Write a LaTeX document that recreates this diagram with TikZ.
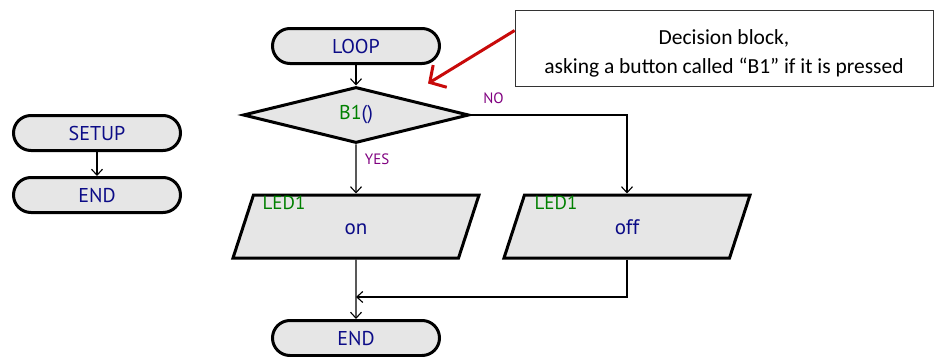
\documentclass[tikz,border=0pt]{standalone}
\usepackage{fontspec}
\setmainfont{PT Sans}
\newfontfamily\notefont{Carlito}
\usetikzlibrary{arrows.meta,positioning,calc,shapes.geometric}
\definecolor{boxfill}{RGB}{230,230,230}
\definecolor{keyword}{RGB}{12,12,135}
\definecolor{varname}{RGB}{0,128,0}
\definecolor{answer}{RGB}{128,0,128}
\definecolor{pointer}{RGB}{200,10,10}

\begin{document}
\begin{tikzpicture}[x=1pt, y=-1pt, node distance=22pt, >={Straight Barb[length=6pt,width=11pt]},
  term/.style={draw, line width=3pt, fill=boxfill, rounded corners=17.5pt, minimum width=167pt, minimum height=35pt, text=keyword, font=\fontsize{20}{24}\selectfont},
  decision/.style={draw, diamond, aspect=3.5, inner sep=0pt, line width=3pt, fill=boxfill, minimum width=226pt, minimum height=56pt, text=keyword, font=\fontsize{20}{24}\selectfont},
  io/.style={draw, trapezium, trapezium left angle=72, trapezium right angle=108, trapezium stretches body, line width=3pt, fill=boxfill, text height=15pt, text depth=0pt, inner ysep=24pt, minimum width=246pt, text=keyword, font=\fontsize{21}{24}\selectfont},
  tag/.style={text=varname, font=\fontsize{19}{22}\selectfont},
  answer/.style={text=answer, font=\fontsize{15}{18}\selectfont},
  flow/.style={->, line width=1.1pt}]
\useasboundingbox (0,0) rectangle (934,356);
% SETUP part
\node[term] (setup) at (97,133) {SETUP};
\node[term, below=24pt of setup] (stop) {END};
\draw[flow] (setup) -- (stop);
% LOOP part
\node[term] (loop) at (356,46) {LOOP};
\node[decision] (dec) at (356,115) {{\color{varname}B1}()};
\node[io] (on) at (356,226.5) {on};
\node[io] (off) at (627,226.5) {off};
\node[tag] at ([xshift=-72pt, yshift=-9pt]on.north) {LED1};
\node[tag] at ([xshift=-71pt, yshift=-9pt]off.north) {LED1};
\node[term] (done) at (356,338) {END};
\coordinate (join) at ($(on.south)!0.63!(done.north)$);
\draw[flow] (loop) -- (dec);
\draw[flow] (dec) -- node[answer, right=5pt, pos=0.3] {YES} (on);
\draw[flow] (dec.east) -| node[answer, at start, anchor=base west, xshift=9pt, yshift=12pt] {NO} (off.north);
\draw[flow] (on) -- (done);
\draw[flow] (off.south) |- (join);
% comment box
\node[draw=black!80, line width=0.8pt, minimum width=418pt, minimum height=76pt, align=center, font=\notefont\fontsize{21.5}{29}\selectfont] (note) at (724,48.5) {\rule{0pt}{24pt}Decision block,\\asking a button called “B1” if it is pressed};
\coordinate (aim) at ([xshift=72pt, yshift=2pt]dec.north);
\draw[pointer, line width=3pt, -{Straight Barb[length=12pt,width=26pt]}] ([yshift=18pt]note.west) -- (aim);
\end{tikzpicture}
\end{document}
